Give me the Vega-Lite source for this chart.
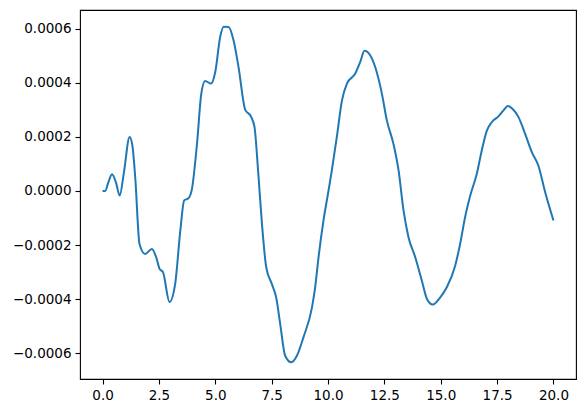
{
  "$schema": "https://vega.github.io/schema/vega-lite/v6.json",
  "width": 496,
  "height": 369,
  "autosize": {"type": "none"},
  "padding": {"left": 80, "top": 10, "right": 9, "bottom": 34},
  "background": "white",
  "config": {
    "view": {"stroke": "black", "strokeWidth": 1.1},
    "axis": {
      "grid": false,
      "domain": false,
      "ticks": true,
      "tickColor": "black",
      "tickSize": 5,
      "tickWidth": 1.1,
      "labelFont": "DejaVu Sans",
      "labelFontSize": 13.5,
      "labelColor": "black",
      "labelPadding": 4,
      "title": null
    }
  },
  "data": {
    "values": [
      {"x": 0, "y": 0},
      {"x": 0.12, "y": 0},
      {"x": 0.25, "y": 0.00003},
      {"x": 0.42, "y": 0.000062},
      {"x": 0.6, "y": 0.00003},
      {"x": 0.76, "y": -0.000017},
      {"x": 0.95, "y": 0.00007},
      {"x": 1.2, "y": 0.0002},
      {"x": 1.32, "y": 0.00017},
      {"x": 1.45, "y": 0.00005},
      {"x": 1.64, "y": -0.000196},
      {"x": 1.89, "y": -0.000233},
      {"x": 2.19, "y": -0.000214},
      {"x": 2.38, "y": -0.000245},
      {"x": 2.53, "y": -0.000288},
      {"x": 2.68, "y": -0.0003},
      {"x": 2.97, "y": -0.00041},
      {"x": 3.22, "y": -0.000344},
      {"x": 3.45, "y": -0.000146},
      {"x": 3.62, "y": -0.000035},
      {"x": 3.81, "y": -0.000027},
      {"x": 3.96, "y": 0.000005},
      {"x": 4.19, "y": 0.000175},
      {"x": 4.38, "y": 0.00036},
      {"x": 4.55, "y": 0.000407},
      {"x": 4.81, "y": 0.000397},
      {"x": 5.0, "y": 0.00044},
      {"x": 5.22, "y": 0.00057},
      {"x": 5.37, "y": 0.000607},
      {"x": 5.59, "y": 0.000606},
      {"x": 5.81, "y": 0.000557},
      {"x": 6.03, "y": 0.000459},
      {"x": 6.33, "y": 0.0003},
      {"x": 6.58, "y": 0.000276},
      {"x": 6.74, "y": 0.000236},
      {"x": 6.92, "y": 0.000051},
      {"x": 7.07, "y": -0.000121},
      {"x": 7.26, "y": -0.000282},
      {"x": 7.51, "y": -0.000344},
      {"x": 7.7, "y": -0.000393},
      {"x": 7.88, "y": -0.000492},
      {"x": 8.1, "y": -0.000609},
      {"x": 8.37, "y": -0.000633},
      {"x": 8.62, "y": -0.000609},
      {"x": 8.91, "y": -0.000541},
      {"x": 9.29, "y": -0.00043},
      {"x": 9.43, "y": -0.000356},
      {"x": 9.58, "y": -0.000245},
      {"x": 9.8, "y": -0.000109},
      {"x": 10.02, "y": 0},
      {"x": 10.17, "y": 0.000076},
      {"x": 10.39, "y": 0.000199},
      {"x": 10.62, "y": 0.000335},
      {"x": 10.84, "y": 0.000397},
      {"x": 11.21, "y": 0.000434},
      {"x": 11.43, "y": 0.000477},
      {"x": 11.62, "y": 0.000518},
      {"x": 11.87, "y": 0.000502},
      {"x": 12.09, "y": 0.000459},
      {"x": 12.39, "y": 0.00036},
      {"x": 12.61, "y": 0.000261},
      {"x": 12.9, "y": 0.000175},
      {"x": 13.13, "y": 0.000076},
      {"x": 13.35, "y": -0.000072},
      {"x": 13.57, "y": -0.000171},
      {"x": 13.87, "y": -0.000245},
      {"x": 14.16, "y": -0.000331},
      {"x": 14.39, "y": -0.000399},
      {"x": 14.65, "y": -0.00042},
      {"x": 14.98, "y": -0.000393},
      {"x": 15.27, "y": -0.000356},
      {"x": 15.64, "y": -0.000276},
      {"x": 15.86, "y": -0.000196},
      {"x": 16.08, "y": -0.000097},
      {"x": 16.31, "y": -0.000017},
      {"x": 16.6, "y": 0.000064},
      {"x": 16.82, "y": 0.00015},
      {"x": 17.05, "y": 0.000224},
      {"x": 17.27, "y": 0.000255},
      {"x": 17.56, "y": 0.000276},
      {"x": 17.78, "y": 0.000298},
      {"x": 17.98, "y": 0.000314},
      {"x": 18.18, "y": 0.000304},
      {"x": 18.45, "y": 0.000273},
      {"x": 18.74, "y": 0.000212},
      {"x": 19.04, "y": 0.000144},
      {"x": 19.33, "y": 0.000094},
      {"x": 19.63, "y": -0.000004},
      {"x": 20.0, "y": -0.000109}
    ]
  },
  "mark": {"type": "line", "color": "#1f77b4", "strokeWidth": 2, "interpolate": "monotone", "clip": true},
  "encoding": {
    "x": {
      "field": "x",
      "type": "quantitative",
      "scale": {"domain": [-1, 21], "nice": false, "zero": false},
      "axis": {"values": [0, 2.5, 5, 7.5, 10, 12.5, 15, 17.5, 20], "format": ".1f"}
    },
    "y": {
      "field": "y",
      "type": "quantitative",
      "scale": {"domain": [-0.000695, 0.000669], "nice": false, "zero": false},
      "axis": {"values": [-0.0006, -0.0004, -0.0002, 0, 0.0002, 0.0004, 0.0006], "format": ".4f"}
    }
  }
}
